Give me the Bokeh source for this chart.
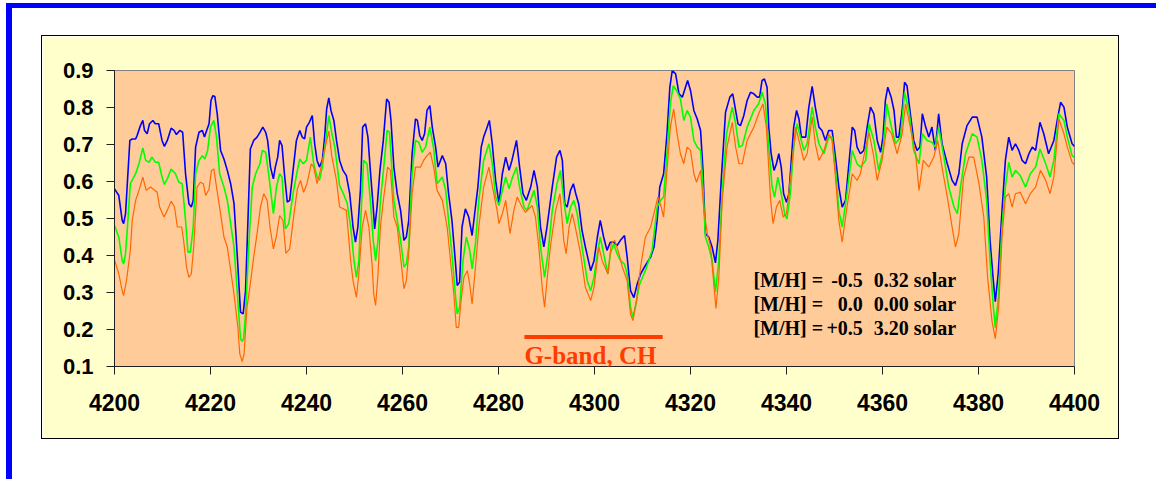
from bokeh.plotting import figure
from bokeh.models import Range1d, FixedTicker, NumeralTickFormatter, Label
from bokeh.layouts import column
from bokeh.embed import file_html
from bokeh.resources import INLINE

# ---------------- data ----------------
x_ticks = [4200, 4220, 4240, 4260, 4280, 4300, 4320, 4340, 4360, 4380, 4400]
y_ticks = [0.1, 0.2, 0.3, 0.4, 0.5, 0.6, 0.7, 0.8, 0.9]

# [M/H] = -0.5 (blue)
blue_points = [
    (4200.0, 0.580), (4200.9, 0.562), (4201.6, 0.495), (4201.9, 0.486), (4202.3, 0.513), (4203.2, 0.711),
    (4203.7, 0.715), (4204.4, 0.715), (4204.7, 0.724), (4205.4, 0.751), (4205.9, 0.765), (4206.25, 0.738),
    (4206.8, 0.729), (4207.3, 0.756), (4208.0, 0.765), (4208.5, 0.756), (4209.2, 0.756), (4209.9, 0.711),
    (4210.4, 0.695), (4211.0, 0.711), (4211.8, 0.744), (4212.4, 0.738), (4212.9, 0.727), (4213.6, 0.738),
    (4214.2, 0.733), (4214.8, 0.621), (4215.5, 0.540), (4216.0, 0.531), (4216.4, 0.549), (4216.9, 0.693),
    (4217.6, 0.733), (4218.3, 0.738), (4218.75, 0.720), (4219.2, 0.738), (4219.7, 0.756), (4220.1, 0.819),
    (4220.5, 0.832), (4220.9, 0.830), (4221.4, 0.783), (4222.1, 0.684), (4222.8, 0.661), (4223.5, 0.630),
    (4224.2, 0.594), (4224.9, 0.540), (4225.6, 0.395), (4226.25, 0.247), (4226.8, 0.242), (4227.3, 0.305),
    (4227.8, 0.495), (4228.3, 0.688), (4229.0, 0.711), (4229.7, 0.720), (4230.3, 0.733), (4230.9, 0.747),
    (4231.5, 0.733), (4231.9, 0.711), (4232.5, 0.639), (4233.1, 0.607), (4233.5, 0.639), (4234.0, 0.666),
    (4234.4, 0.711), (4234.9, 0.697), (4235.4, 0.621), (4236.0, 0.544), (4236.5, 0.549), (4237.2, 0.630),
    (4237.9, 0.711), (4238.6, 0.738), (4239.1, 0.720), (4239.6, 0.715), (4240.0, 0.747), (4240.6, 0.760),
    (4241.2, 0.778), (4241.7, 0.702), (4242.2, 0.657), (4242.7, 0.639), (4243.3, 0.657), (4243.75, 0.715),
    (4244.2, 0.796), (4244.65, 0.826), (4245.1, 0.792), (4245.7, 0.765), (4246.25, 0.711), (4246.9, 0.657),
    (4247.6, 0.630), (4248.3, 0.616), (4249.0, 0.567), (4249.7, 0.477), (4250.2, 0.436), (4250.7, 0.477),
    (4251.25, 0.580), (4251.7, 0.747), (4252.3, 0.756), (4252.8, 0.720), (4253.3, 0.630), (4253.9, 0.531),
    (4254.2, 0.472), (4254.7, 0.531), (4255.3, 0.630), (4256.0, 0.711), (4256.7, 0.823), (4257.2, 0.814),
    (4257.6, 0.765), (4258.2, 0.639), (4258.9, 0.567), (4259.6, 0.522), (4260.3, 0.441), (4260.8, 0.450),
    (4261.3, 0.495), (4262.0, 0.675), (4262.7, 0.769), (4263.1, 0.765), (4263.6, 0.724), (4264.1, 0.711),
    (4264.6, 0.729), (4265.1, 0.792), (4265.7, 0.805), (4266.2, 0.747), (4266.9, 0.693), (4267.4, 0.639),
    (4268.3, 0.670), (4269.0, 0.648), (4269.6, 0.567), (4270.3, 0.495), (4271.0, 0.386), (4271.4, 0.319),
    (4271.9, 0.328), (4272.4, 0.477), (4273.1, 0.526), (4273.8, 0.504), (4274.5, 0.454), (4275.2, 0.531),
    (4275.7, 0.585), (4276.4, 0.693), (4276.9, 0.720), (4277.5, 0.742), (4278.1, 0.765), (4278.7, 0.702),
    (4279.4, 0.603), (4280.1, 0.540), (4280.8, 0.621), (4281.5, 0.666), (4282.2, 0.630), (4282.8, 0.657),
    (4283.75, 0.711), (4284.4, 0.639), (4285.1, 0.567), (4285.8, 0.549), (4286.7, 0.585), (4287.4, 0.630),
    (4288.1, 0.585), (4288.75, 0.477), (4289.45, 0.423), (4290.1, 0.477), (4291.2, 0.585), (4292.1, 0.666),
    (4292.8, 0.684), (4293.3, 0.657), (4293.8, 0.540), (4294.3, 0.531), (4295.0, 0.576), (4295.6, 0.594),
    (4296.1, 0.567), (4296.7, 0.540), (4297.4, 0.468), (4298.1, 0.423), (4299.2, 0.359), (4299.9, 0.386),
    (4300.6, 0.450), (4301.2, 0.495), (4301.9, 0.450), (4302.6, 0.414), (4303.3, 0.436), (4304.0, 0.436),
    (4304.7, 0.427), (4305.4, 0.441), (4306.25, 0.454), (4306.8, 0.396), (4307.5, 0.305), (4308.2, 0.286),
    (4308.9, 0.323), (4309.6, 0.350), (4310.6, 0.373), (4311.7, 0.396), (4312.4, 0.423), (4313.05, 0.495),
    (4313.6, 0.585), (4314.4, 0.621), (4315.1, 0.729), (4315.7, 0.855), (4316.2, 0.900), (4316.9, 0.891),
    (4317.6, 0.837), (4318.3, 0.828), (4318.95, 0.855), (4319.4, 0.873), (4320.0, 0.846), (4320.7, 0.792),
    (4321.4, 0.769), (4322.1, 0.738), (4322.6, 0.630), (4323.1, 0.459), (4323.8, 0.450), (4324.5, 0.423),
    (4325.2, 0.380), (4325.7, 0.441), (4326.4, 0.603), (4327.3, 0.787), (4328.2, 0.828), (4328.8, 0.837),
    (4329.4, 0.792), (4329.9, 0.756), (4330.4, 0.751), (4331.1, 0.778), (4331.8, 0.819), (4332.5, 0.841),
    (4333.2, 0.837), (4333.9, 0.828), (4334.4, 0.828), (4334.9, 0.873), (4335.4, 0.877), (4335.95, 0.855),
    (4336.3, 0.747), (4336.8, 0.675), (4337.4, 0.630), (4337.9, 0.648), (4338.4, 0.675), (4338.9, 0.639),
    (4339.4, 0.567), (4340.0, 0.544), (4340.5, 0.567), (4341.0, 0.657), (4341.5, 0.747), (4342.1, 0.792),
    (4342.6, 0.769), (4343.1, 0.720), (4344.0, 0.720), (4344.65, 0.801), (4345.35, 0.857), (4346.0, 0.801),
    (4346.75, 0.747), (4347.4, 0.738), (4348.1, 0.711), (4348.8, 0.738), (4349.5, 0.738), (4350.2, 0.666),
    (4350.9, 0.585), (4351.6, 0.531), (4352.3, 0.549), (4353.0, 0.648), (4353.7, 0.747), (4354.2, 0.738),
    (4354.7, 0.693), (4355.4, 0.675), (4356.1, 0.684), (4356.8, 0.747), (4357.5, 0.801), (4358.2, 0.783),
    (4358.9, 0.711), (4359.6, 0.679), (4360.1, 0.720), (4360.6, 0.819), (4361.1, 0.855), (4361.8, 0.828),
    (4362.4, 0.792), (4362.9, 0.720), (4363.4, 0.720), (4364.1, 0.792), (4364.6, 0.868), (4365.1, 0.859),
    (4365.8, 0.783), (4366.5, 0.711), (4367.2, 0.684), (4367.8, 0.693), (4368.3, 0.783), (4369.0, 0.747),
    (4369.65, 0.720), (4370.3, 0.747), (4371.0, 0.684), (4371.7, 0.783), (4372.4, 0.702), (4373.5, 0.648),
    (4374.5, 0.603), (4375.2, 0.589), (4375.9, 0.621), (4376.6, 0.702), (4377.6, 0.751), (4378.7, 0.774),
    (4379.7, 0.774), (4380.7, 0.720), (4381.7, 0.612), (4382.4, 0.441), (4383.1, 0.330), (4383.5, 0.275),
    (4384.1, 0.350), (4384.9, 0.522), (4385.6, 0.657), (4386.3, 0.720), (4387.0, 0.684), (4387.7, 0.702),
    (4388.4, 0.684), (4389.1, 0.657), (4389.8, 0.648), (4390.5, 0.675), (4391.2, 0.693), (4391.9, 0.684),
    (4392.8, 0.760), (4393.6, 0.729), (4394.6, 0.675), (4395.7, 0.711), (4396.4, 0.765), (4397.1, 0.814),
    (4397.8, 0.801), (4398.5, 0.747), (4399.5, 0.702), (4400.0, 0.695),
]

# [M/H] = 0.0 (green)
green_points = [
    (4200.0, 0.481), (4200.9, 0.450), (4201.6, 0.386), (4201.9, 0.377), (4202.3, 0.405), (4202.6, 0.459),
    (4203.3, 0.594), (4204.4, 0.621), (4205.1, 0.648), (4205.9, 0.691), (4206.5, 0.657), (4207.2, 0.652),
    (4207.8, 0.666), (4208.5, 0.652), (4209.2, 0.652), (4209.9, 0.612), (4210.4, 0.592), (4211.0, 0.607),
    (4211.8, 0.634), (4212.7, 0.621), (4213.4, 0.598), (4214.1, 0.594), (4214.8, 0.495), (4215.3, 0.409),
    (4215.8, 0.409), (4216.4, 0.477), (4216.9, 0.621), (4217.6, 0.657), (4218.3, 0.670), (4218.8, 0.661),
    (4219.4, 0.684), (4220.0, 0.747), (4220.7, 0.765), (4221.25, 0.720), (4221.9, 0.621), (4222.8, 0.585),
    (4223.5, 0.549), (4224.2, 0.486), (4224.9, 0.423), (4225.6, 0.296), (4226.25, 0.175), (4226.6, 0.168),
    (4226.9, 0.175), (4227.3, 0.242), (4228.0, 0.432), (4228.7, 0.585), (4229.4, 0.621), (4230.3, 0.648),
    (4230.8, 0.684), (4231.5, 0.679), (4232.2, 0.612), (4233.1, 0.513), (4233.75, 0.585), (4234.4, 0.621),
    (4234.9, 0.612), (4235.6, 0.472), (4236.3, 0.486), (4237.2, 0.567), (4238.1, 0.630), (4238.6, 0.661),
    (4239.3, 0.648), (4240.0, 0.657), (4240.8, 0.720), (4241.5, 0.648), (4242.2, 0.612), (4242.7, 0.603),
    (4243.3, 0.639), (4243.75, 0.684), (4244.65, 0.778), (4245.3, 0.729), (4245.9, 0.693), (4246.9, 0.589),
    (4247.7, 0.567), (4248.5, 0.540), (4249.2, 0.477), (4249.9, 0.386), (4250.4, 0.341), (4250.9, 0.386),
    (4251.4, 0.522), (4251.9, 0.657), (4252.6, 0.648), (4253.3, 0.549), (4253.9, 0.441), (4254.4, 0.386),
    (4254.9, 0.441), (4255.4, 0.549), (4256.1, 0.639), (4256.8, 0.738), (4257.3, 0.733), (4258.2, 0.549),
    (4258.9, 0.495), (4259.6, 0.441), (4260.3, 0.369), (4260.8, 0.377), (4261.3, 0.423), (4262.0, 0.621),
    (4262.7, 0.711), (4263.4, 0.706), (4264.1, 0.679), (4264.8, 0.693), (4265.7, 0.747), (4266.5, 0.688),
    (4267.2, 0.594), (4268.3, 0.612), (4269.0, 0.576), (4269.6, 0.495), (4270.3, 0.405), (4271.0, 0.296),
    (4271.4, 0.242), (4271.9, 0.260), (4272.6, 0.386), (4273.3, 0.450), (4274.0, 0.414), (4274.5, 0.364),
    (4275.2, 0.432), (4275.9, 0.549), (4276.9, 0.657), (4278.0, 0.702), (4278.7, 0.648), (4279.4, 0.558),
    (4280.1, 0.535), (4280.8, 0.576), (4281.5, 0.612), (4282.2, 0.580), (4282.8, 0.607), (4283.75, 0.639),
    (4284.4, 0.585), (4285.3, 0.531), (4285.95, 0.522), (4287.4, 0.576), (4288.1, 0.531), (4288.75, 0.423),
    (4289.6, 0.341), (4290.3, 0.405), (4291.2, 0.522), (4292.2, 0.594), (4292.9, 0.630), (4293.6, 0.549),
    (4294.3, 0.486), (4295.0, 0.531), (4295.7, 0.549), (4296.4, 0.513), (4297.4, 0.423), (4298.5, 0.332),
    (4299.2, 0.305), (4299.9, 0.341), (4300.6, 0.405), (4301.2, 0.450), (4301.9, 0.405), (4302.8, 0.350),
    (4303.3, 0.405), (4304.0, 0.432), (4304.7, 0.405), (4305.4, 0.386), (4306.25, 0.377), (4306.8, 0.350),
    (4307.5, 0.260), (4308.0, 0.233), (4308.5, 0.260), (4309.4, 0.323), (4310.6, 0.359), (4312.0, 0.414),
    (4313.05, 0.531), (4313.75, 0.549), (4314.4, 0.558), (4315.1, 0.675), (4315.8, 0.810), (4316.4, 0.859),
    (4317.1, 0.846), (4317.9, 0.823), (4318.6, 0.765), (4319.3, 0.792), (4320.0, 0.774), (4320.7, 0.711),
    (4321.4, 0.693), (4322.1, 0.684), (4322.6, 0.585), (4323.1, 0.450), (4323.8, 0.423), (4324.5, 0.386),
    (4325.2, 0.301), (4325.9, 0.386), (4326.6, 0.567), (4327.5, 0.729), (4328.7, 0.801), (4329.4, 0.756),
    (4330.1, 0.693), (4330.8, 0.697), (4331.8, 0.747), (4333.2, 0.792), (4334.2, 0.810), (4334.9, 0.841),
    (4335.6, 0.810), (4336.3, 0.693), (4337.0, 0.585), (4337.5, 0.558), (4338.2, 0.612), (4338.9, 0.567),
    (4339.6, 0.513), (4340.1, 0.499), (4340.8, 0.567), (4341.5, 0.693), (4342.2, 0.756), (4342.9, 0.720),
    (4343.6, 0.684), (4344.3, 0.702), (4345.35, 0.801), (4346.0, 0.747), (4346.75, 0.702), (4347.8, 0.675),
    (4348.8, 0.720), (4349.5, 0.720), (4350.2, 0.630), (4350.9, 0.522), (4351.6, 0.477), (4352.6, 0.567),
    (4353.7, 0.684), (4354.7, 0.648), (4355.4, 0.639), (4356.5, 0.657), (4357.2, 0.756), (4358.2, 0.711),
    (4359.2, 0.630), (4360.1, 0.684), (4360.9, 0.810), (4361.7, 0.756), (4362.7, 0.702), (4363.75, 0.720),
    (4364.6, 0.841), (4365.5, 0.792), (4366.5, 0.684), (4367.6, 0.648), (4368.3, 0.729), (4369.3, 0.711),
    (4370.3, 0.706), (4371.0, 0.693), (4371.7, 0.747), (4372.8, 0.666), (4373.8, 0.585), (4374.9, 0.531),
    (4375.6, 0.513), (4376.25, 0.585), (4377.3, 0.675), (4378.7, 0.729), (4379.7, 0.720), (4380.7, 0.657),
    (4381.7, 0.549), (4382.4, 0.386), (4383.1, 0.260), (4383.5, 0.205), (4384.2, 0.296), (4384.9, 0.477),
    (4385.6, 0.585), (4386.3, 0.652), (4387.0, 0.612), (4387.7, 0.630), (4388.7, 0.616), (4389.8, 0.585),
    (4390.8, 0.621), (4391.9, 0.639), (4392.8, 0.688), (4394.0, 0.648), (4394.9, 0.612), (4395.7, 0.657),
    (4396.75, 0.783), (4397.8, 0.765), (4398.5, 0.720), (4399.5, 0.670), (4400.0, 0.665),
]

# [M/H] = +0.5 (orange)
orange_points = [
    (4200.0, 0.388), (4200.9, 0.350), (4201.6, 0.305), (4201.9, 0.292), (4202.5, 0.332), (4203.3, 0.414),
    (4203.7, 0.495), (4204.4, 0.549), (4205.1, 0.576), (4205.9, 0.612), (4206.6, 0.576), (4207.5, 0.585),
    (4208.9, 0.571), (4209.4, 0.531), (4210.3, 0.504), (4211.0, 0.522), (4211.8, 0.547), (4212.5, 0.531),
    (4213.1, 0.477), (4214.0, 0.477), (4214.4, 0.441), (4215.0, 0.369), (4215.5, 0.341), (4216.0, 0.350),
    (4216.5, 0.423), (4217.2, 0.585), (4217.9, 0.598), (4218.5, 0.594), (4219.0, 0.562), (4219.7, 0.580),
    (4220.2, 0.630), (4220.7, 0.634), (4221.25, 0.585), (4222.1, 0.513), (4222.8, 0.450), (4223.5, 0.423),
    (4224.2, 0.360), (4224.9, 0.296), (4225.7, 0.206), (4226.1, 0.134), (4226.6, 0.113), (4227.0, 0.134),
    (4227.6, 0.260), (4228.2, 0.314), (4228.9, 0.386), (4229.7, 0.459), (4230.4, 0.531), (4231.1, 0.567),
    (4231.8, 0.549), (4232.4, 0.477), (4233.1, 0.418), (4233.7, 0.450), (4234.4, 0.508), (4235.1, 0.495),
    (4235.7, 0.406), (4236.5, 0.418), (4237.4, 0.513), (4238.1, 0.580), (4238.75, 0.603), (4239.4, 0.571),
    (4240.1, 0.594), (4241.0, 0.648), (4241.5, 0.639), (4242.2, 0.594), (4242.9, 0.630), (4243.75, 0.684),
    (4244.65, 0.736), (4245.3, 0.666), (4246.25, 0.603), (4246.9, 0.531), (4248.3, 0.522), (4249.2, 0.386),
    (4249.7, 0.332), (4250.4, 0.287), (4250.9, 0.350), (4251.6, 0.477), (4252.3, 0.522), (4253.0, 0.477),
    (4253.7, 0.369), (4254.0, 0.296), (4254.4, 0.265), (4254.9, 0.350), (4255.4, 0.477), (4256.1, 0.558),
    (4256.9, 0.639), (4257.5, 0.630), (4258.2, 0.504), (4258.9, 0.477), (4259.6, 0.395), (4260.3, 0.310),
    (4260.8, 0.332), (4261.3, 0.405), (4262.0, 0.567), (4262.7, 0.639), (4263.75, 0.639), (4264.4, 0.657),
    (4265.1, 0.670), (4265.8, 0.679), (4266.5, 0.639), (4267.2, 0.576), (4268.3, 0.549), (4269.3, 0.477),
    (4270.0, 0.386), (4270.7, 0.296), (4271.2, 0.206), (4271.7, 0.206), (4272.2, 0.278), (4272.8, 0.341),
    (4273.5, 0.359), (4274.0, 0.323), (4274.5, 0.269), (4275.2, 0.368), (4275.9, 0.477), (4276.9, 0.585),
    (4278.0, 0.639), (4278.9, 0.576), (4279.7, 0.522), (4280.1, 0.486), (4280.8, 0.513), (4281.5, 0.549),
    (4282.4, 0.459), (4283.2, 0.522), (4283.9, 0.558), (4284.9, 0.531), (4285.6, 0.517), (4287.0, 0.535),
    (4287.7, 0.504), (4288.4, 0.423), (4289.1, 0.314), (4289.6, 0.260), (4290.1, 0.332), (4290.8, 0.423),
    (4291.9, 0.522), (4292.8, 0.567), (4293.6, 0.441), (4294.1, 0.405), (4294.7, 0.477), (4295.35, 0.513),
    (4296.0, 0.477), (4297.1, 0.405), (4298.1, 0.314), (4299.2, 0.278), (4299.9, 0.314), (4300.9, 0.423),
    (4301.6, 0.386), (4302.8, 0.350), (4303.5, 0.432), (4304.2, 0.441), (4304.9, 0.414), (4305.8, 0.369),
    (4306.8, 0.332), (4307.5, 0.242), (4308.0, 0.224), (4308.75, 0.278), (4309.6, 0.369), (4310.6, 0.450),
    (4311.7, 0.477), (4312.7, 0.531), (4313.2, 0.558), (4313.9, 0.531), (4314.4, 0.504), (4315.1, 0.630),
    (4315.8, 0.747), (4316.5, 0.796), (4317.2, 0.729), (4317.9, 0.675), (4318.6, 0.648), (4319.3, 0.693),
    (4320.0, 0.684), (4320.7, 0.621), (4321.25, 0.598), (4322.1, 0.630), (4322.8, 0.522), (4323.5, 0.459),
    (4324.2, 0.423), (4324.9, 0.315), (4325.3, 0.257), (4325.9, 0.341), (4326.6, 0.549), (4327.6, 0.693),
    (4328.7, 0.760), (4329.4, 0.693), (4330.1, 0.648), (4330.8, 0.648), (4331.8, 0.711), (4333.2, 0.747),
    (4334.2, 0.783), (4335.1, 0.810), (4335.8, 0.747), (4336.7, 0.549), (4337.2, 0.486), (4337.9, 0.531),
    (4338.6, 0.549), (4339.3, 0.504), (4340.0, 0.513), (4341.0, 0.630), (4341.9, 0.747), (4342.6, 0.711),
    (4343.6, 0.657), (4344.3, 0.675), (4345.35, 0.774), (4346.0, 0.702), (4346.75, 0.657), (4347.8, 0.684),
    (4348.8, 0.729), (4349.5, 0.711), (4350.2, 0.612), (4350.9, 0.495), (4351.6, 0.436), (4352.6, 0.531),
    (4353.7, 0.621), (4354.7, 0.603), (4355.4, 0.621), (4356.5, 0.693), (4357.2, 0.733), (4358.2, 0.666),
    (4358.9, 0.603), (4359.9, 0.657), (4360.9, 0.747), (4361.9, 0.729), (4363.05, 0.675), (4364.1, 0.729),
    (4364.8, 0.810), (4365.8, 0.747), (4366.9, 0.675), (4367.6, 0.576), (4368.5, 0.657), (4369.65, 0.639),
    (4370.7, 0.666), (4371.5, 0.711), (4372.4, 0.639), (4373.5, 0.558), (4374.5, 0.477), (4375.2, 0.423),
    (4375.9, 0.459), (4376.9, 0.612), (4378.0, 0.666), (4379.0, 0.666), (4380.1, 0.594), (4381.1, 0.504),
    (4381.9, 0.341), (4382.8, 0.224), (4383.5, 0.175), (4384.2, 0.260), (4384.9, 0.450), (4385.6, 0.558),
    (4386.3, 0.567), (4387.0, 0.531), (4387.7, 0.567), (4388.7, 0.571), (4389.8, 0.540), (4390.8, 0.567),
    (4391.9, 0.585), (4392.9, 0.630), (4394.0, 0.603), (4394.9, 0.567), (4395.7, 0.612), (4396.75, 0.769),
    (4397.8, 0.729), (4398.5, 0.693), (4399.5, 0.652), (4400.0, 0.645),
]

metallicity_labels = ["[M/H] =", "[M/H] =", "[M/H] ="]
metallicity_values = ["-0.5", "0.0", "+0.5"]
solar_values = ["0.32 solar", "0.00 solar", "3.20 solar"]

gband_range = [4285.4, 4314.2]
gband_label = "G-band, CH"

# ---------------- figure ----------------
p = figure(
    width=1076, height=402,
    x_range=Range1d(4200, 4400), y_range=Range1d(0.1, 0.9),
    output_backend="svg", toolbar_location=None,
    min_border_left=72, min_border_right=44, min_border_top=34, min_border_bottom=72,
)
p.grid.visible = False
p.background_fill_color = "#FFCC99"
p.border_fill_color = "#FFFFCC"
p.outline_line_color = "#808080"
p.outline_line_width = 1

for ax in (p.xaxis[0], p.yaxis[0]):
    ax.axis_line_color = "#202020"
    ax.axis_line_width = 1
    ax.major_tick_line_color = "#202020"
    ax.major_tick_in = 0
    ax.major_tick_out = 8
    ax.minor_tick_line_color = None
    ax.major_label_text_font = "Liberation Sans"
    ax.major_label_text_font_style = "bold"
    ax.major_label_text_color = "black"

p.xaxis.ticker = FixedTicker(ticks=x_ticks)
p.xaxis.major_label_text_font_size = "23px"
p.xaxis.major_label_standoff = 19
p.yaxis.ticker = FixedTicker(ticks=y_ticks)
p.yaxis.formatter = NumeralTickFormatter(format="0.0")
p.yaxis.major_label_text_font_size = "22px"
p.yaxis.major_label_standoff = 13

series = [
    (blue_points, "#0000FF", 1.6),
    (green_points, "#00FF00", 1.6),
    (orange_points, "#FF6600", 1.2),
]
for pts, color, lw in series:
    wl = [a for a, b in pts]
    fl = [b for a, b in pts]
    p.line(wl, fl, line_color=color, line_width=lw)

# G-band marker
p.line(gband_range, [0.180, 0.180], line_color="#FF3C00", line_width=4)
p.add_layout(Label(x=gband_range[0], y=0.131, text=gband_label,
                   text_font="Liberation Serif", text_font_style="bold",
                   text_font_size="25px", text_color="#FF3C00",
                   text_align="left", text_baseline="alphabetic"))

# metallicity annotation
baselines = [0.333, 0.269, 0.205]
for lab, val, sol, yb in zip(metallicity_labels, metallicity_values, solar_values, baselines):
    common = dict(text_font="Liberation Serif", text_font_style="bold",
                  text_font_size="20px", text_color="black", text_baseline="alphabetic")
    p.add_layout(Label(x=4333.1, y=yb, text=lab, text_align="left", **common))
    p.add_layout(Label(x=4355.9, y=yb, text=val, text_align="right", **common))
    p.add_layout(Label(x=4358.2, y=yb, text=sol, text_align="left", **common))

p.styles = {"outline": "1px solid black"}
p.margin = (33, 0, 0, 36)

page = column(p, width=1150, height=476, margin=(3, 0, 0, 6),
              styles={"background-color": "white",
                      "box-shadow": "inset 6px 5px 0 0 #0000FF"})

open("out.html", "w").write(file_html(page, INLINE))
